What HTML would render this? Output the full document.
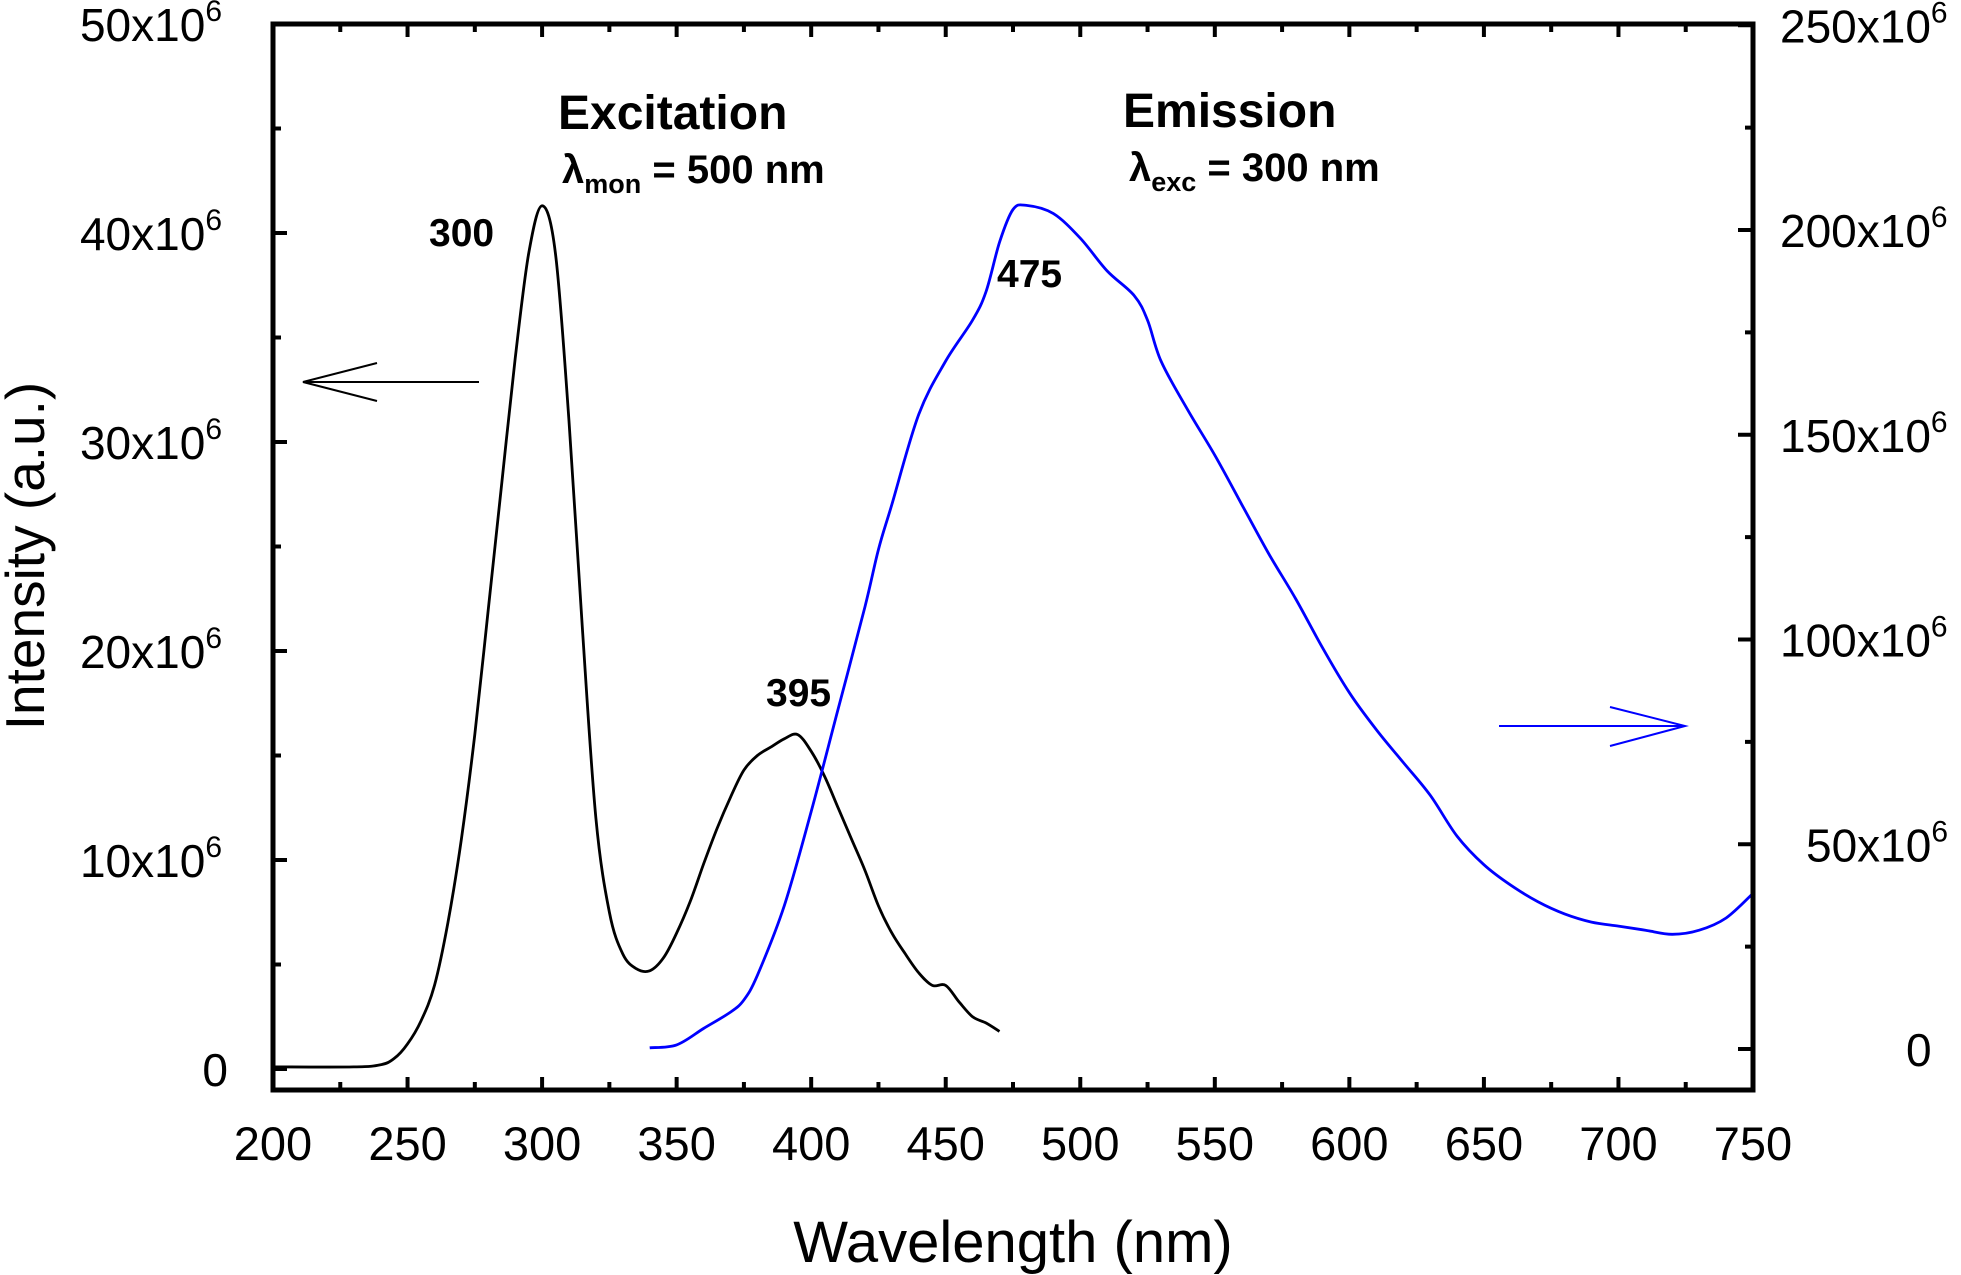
<!DOCTYPE html>
<html><head><meta charset="utf-8"><style>
body{margin:0;background:#fff}
svg{display:block;font-family:"Liberation Sans",sans-serif}
</style></head><body>
<svg id="chart" width="1961" height="1275" viewBox="0 0 1961 1275" xmlns="http://www.w3.org/2000/svg">
<g id="plot"></g>
</svg>
<script>
const excWl=[200,230,240,245,250,255,260,265,270,275,280,285,290,295,300,305,310,315,320,325,330,335,340,345,350,355,360,365,370,375,380,385,390,395,400,405,410,415,420,425,430,435,440,445,450,455,460,465,470];
const excVal=[0.1,0.1,0.2,0.5,1.2,2.3,4,7,11,16,22,28,34,39,41.3,39,31,21,12,7.5,5.5,4.8,4.7,5.3,6.5,8,9.8,11.5,13,14.3,15,15.4,15.8,16,15.2,14,12.5,11,9.5,7.8,6.5,5.5,4.6,4,4,3.2,2.5,2.2,1.8];
const emWl=[340,350,360,370,375,380,390,400,410,420,425,430,440,450,460,465,470,475,480,490,500,510,520,525,530,540,550,560,570,580,590,600,610,620,630,640,650,660,670,680,690,700,710,720,730,740,750];
const emVal=[0.3,1,5,9,12,18,35,58,83,108,122,133,155,168,178,185,197,205,206,204,198,190,184,178,168,156,145,133,121,110,98,87,78,70,62,52,45,40,36,33,31,30,29,28,29,32,38];
const xTicks=[200,250,300,350,400,450,500,550,600,650,700,750];
const yLeftTicks=[0,10,20,30,40,50];
const yRightTicks=[0,50,100,150,200,250];

const X0=273,X1=1753,YT=24,YB=1090;
const x=w=>X0+(w-200)/550*(X1-X0);
const yL=v=>1069-v*(1069-233)/40;
const yR=v=>1049-v*(1049-230)/200;
const NS="http://www.w3.org/2000/svg";
const g=document.getElementById('plot');
function mk(t,a,parent){const e=document.createElementNS(NS,t);for(const k in a)e.setAttribute(k,a[k]);(parent||g).appendChild(e);return e;}
function smooth(pts){let d='M'+pts[0][0].toFixed(1)+' '+pts[0][1].toFixed(1);
 for(let i=0;i<pts.length-1;i++){const p0=pts[i-1]||pts[i],p1=pts[i],p2=pts[i+1],p3=pts[i+2]||p2;
  const c1=[p1[0]+(p2[0]-p0[0])/6,p1[1]+(p2[1]-p0[1])/6],c2=[p2[0]-(p3[0]-p1[0])/6,p2[1]-(p3[1]-p1[1])/6];
  d+=' C'+c1.map(v=>v.toFixed(1)).join(' ')+' '+c2.map(v=>v.toFixed(1)).join(' ')+' '+p2[0].toFixed(1)+' '+p2[1].toFixed(1);}
 return d;}

let p=mk('path',{d:smooth(excWl.map((w,i)=>[x(w),yL(excVal[i])])),fill:'none',stroke:'#000','stroke-width':2.8});


p=mk('path',{d:smooth(emWl.map((w,i)=>[x(w),yR(emVal[i])])),fill:'none',stroke:'#0000ff','stroke-width':2.8});



let f=mk('rect',{x:X0,y:YT,width:X1-X0,height:YB-YT,fill:'none',stroke:'#000','stroke-width':5});



for(let w=200;w<=750;w+=25){const maj=w%50===0;const L=maj?13:8;const xx=x(w);
 mk('line',{x1:xx,y1:YB,x2:xx,y2:YB-L,stroke:'#000','stroke-width':4});
 mk('line',{x1:xx,y1:YT,x2:xx,y2:YT+L,stroke:'#000','stroke-width':4});}
xTicks.forEach(w=>{const t=mk('text',{x:x(w),y:1160,'font-size':47,'text-anchor':'middle'});t.textContent=w;
 
 });
for(let v=0;v<=50;v+=5){const L=v%10===0?14:8;const yy=yL(v);mk('line',{x1:X0,y1:yy,x2:X0+L,y2:yy,stroke:'#000','stroke-width':4});}
yLeftTicks.forEach(v=>{const t=mk('text',{x:v?222:228,y:yL(v)+17,'font-size':46,'text-anchor':'end'});
 if(v){t.innerHTML=v+'x10<tspan font-size="30" dy="-20">6</tspan>';}else t.textContent='0';
 
 });
for(let v=0;v<=250;v+=25){const L=v%50===0?15:8;const yy=yR(v);mk('line',{x1:X1,y1:yy,x2:X1-L,y2:yy,stroke:'#000','stroke-width':4});}
yRightTicks.forEach(v=>{const t=mk('text',{x:v?1780:1906,y:yR(v)+17,'font-size':46,'text-anchor':'start'});
 if(v){t.innerHTML=v+'x10<tspan font-size="30" dy="-20">6</tspan>';}else t.textContent='0';
 if(v===50)t.setAttribute('x',1806);
 
 });
</script>
<svg style="position:absolute;left:0;top:0" width="1961" height="1275" font-family="Liberation Sans, sans-serif">
<text transform="translate(44,556) rotate(-90)" font-size="55" text-anchor="middle">Intensity (a.u.)</text>
<text x="1013" y="1262" font-size="58" text-anchor="middle">Wavelength (nm)</text>
<text x="558" y="129" font-size="48" font-weight="bold">Excitation</text>
<text x="562" y="183" font-size="40" font-weight="bold">λ<tspan font-size="27" dy="10">mon</tspan><tspan dy="-10"> = 500 nm</tspan></text>
<text x="1123" y="127" font-size="48" font-weight="bold">Emission</text>
<text x="1129" y="181" font-size="40" font-weight="bold">λ<tspan font-size="27" dy="10">exc</tspan><tspan dy="-10"> = 300 nm</tspan></text>
<text x="429" y="246" font-size="39" font-weight="bold">300</text>
<text x="766" y="706" font-size="39" font-weight="bold">395</text>
<text x="997" y="287" font-size="39" font-weight="bold">475</text>
<g stroke="#000" stroke-width="2" fill="none">
<path d="M479 382 L303 382 M377 363 L303 382 L377 401"/></g>
<g stroke="#0000ff" stroke-width="2" fill="none">
<path d="M1499 726 L1685 726 M1610 707 L1685 726 L1610 746"/></g>
</svg>
</body></html>
